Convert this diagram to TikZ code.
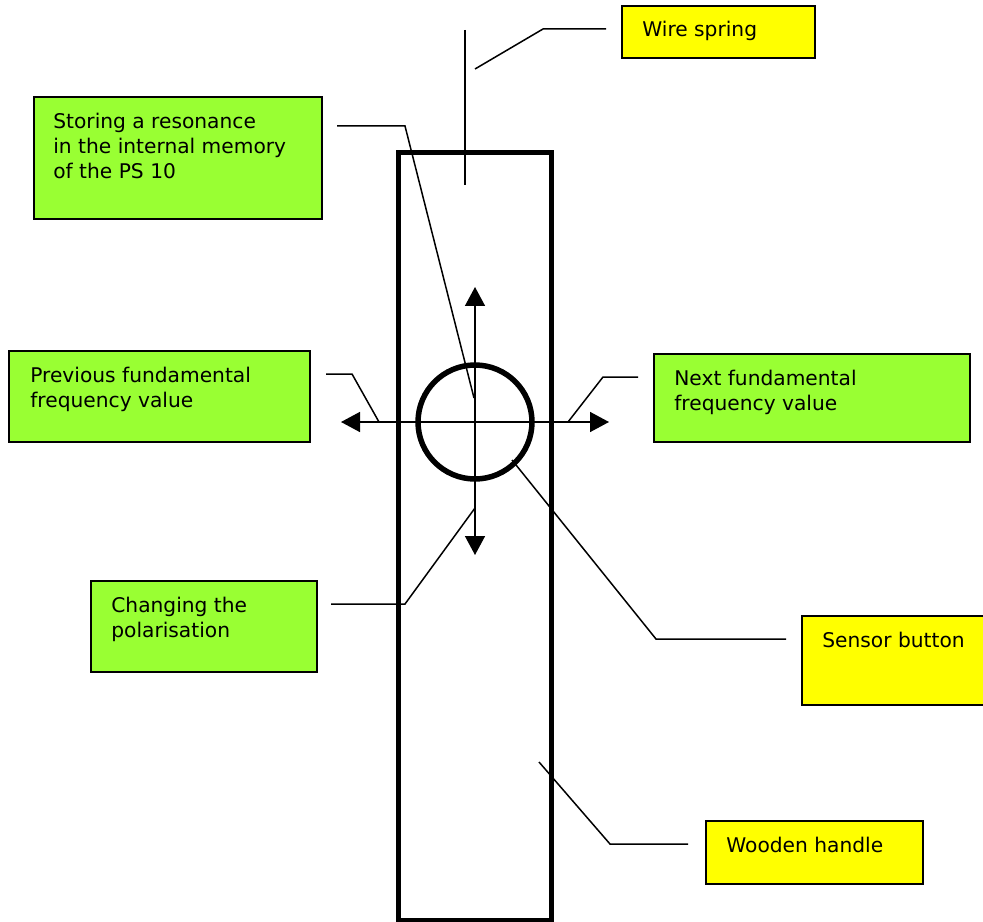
\documentclass[tikz,border=0pt]{standalone}
\usepackage{fontspec}
\setmainfont{DejaVu Sans}
\usetikzlibrary{arrows.meta}
\definecolor{notegreen}{HTML}{99FF33}
\definecolor{noteyellow}{HTML}{FFFF00}
\tikzset{
	notebox/.style={draw=black, line width=0.35mm, rectangle, inner sep=0pt, anchor=north west},
	greennote/.style={notebox, fill=notegreen},
	yellownote/.style={notebox, fill=noteyellow},
	notetext/.style={anchor=north west, align=left, inner sep=0pt, font=\fontsize{11.5}{14.2}\selectfont},
	leader/.style={line width=0.3mm},
	moveaxis/.style={line width=0.3mm, {Triangle[length=3.8mm,width=4mm]}-{Triangle[length=3.8mm,width=4mm]}}
}
\begin{document}
\begin{tikzpicture}[x=0.02cm, y=-0.02cm]
			%%%%% START %%%%%
			\useasboundingbox (0, 0) rectangle (983, 922);
			\clip (0, 0) rectangle (983, 922);
			
			% handle and spring
			\draw[line width=1mm] (398, 153) rectangle (551, 920);
			\draw[line width=0.3mm] (465, 30) -- (465, 185);
			
			% sensor button and its four directions
			\coordinate (btn) at (475, 422);
			\coordinate (up) at (475, 287);
			\coordinate (down) at (475, 555);
			\coordinate (left) at (341, 422);
			\coordinate (right) at (609, 422);
			\draw[moveaxis] (up) -- (down);
			\draw[moveaxis] (left) -- (right);
			\draw[line width=1.1mm] (btn) circle (1.14cm);
			
			% notes
			\node[greennote, minimum width=5.76cm, minimum height=2.44cm] (storing) at (33, 96) {};
			\node[notetext] at ([xshift=4mm, yshift=-3.3mm]storing.north west) {Storing a resonance\\in the internal memory\\of the PS 10};
			
			\node[greennote, minimum width=6.02cm, minimum height=1.82cm] (previous) at (8, 350) {};
			\node[notetext] at ([xshift=4.4mm, yshift=-3.3mm]previous.north west) {Previous fundamental\\frequency value};
			
			\node[greennote, minimum width=4.52cm, minimum height=1.82cm] (changing) at (90, 580) {};
			\node[notetext] at ([xshift=4.2mm, yshift=-3.3mm]changing.north west) {Changing the\\polarisation};
			
			\node[yellownote, minimum width=3.86cm, minimum height=1.04cm] (wire) at (621, 5) {};
			\node[notetext] at ([xshift=4.2mm, yshift=-3.1mm]wire.north west) {Wire spring};
			
			\node[greennote, minimum width=6.32cm, minimum height=1.76cm] (next) at (653, 353) {};
			\node[notetext] at ([xshift=4.2mm, yshift=-3.3mm]next.north west) {Next fundamental\\frequency value};
			
			\node[yellownote, minimum width=4.2cm, minimum height=1.78cm] (sensor) at (801, 615) {};
			\node[notetext] at ([xshift=4.2mm, yshift=-3.3mm]sensor.north west) {Sensor button};
			
			\node[yellownote, minimum width=4.34cm, minimum height=1.26cm] (wooden) at (705, 820) {};
			\node[notetext] at ([xshift=4.2mm, yshift=-3.3mm]wooden.north west) {Wooden handle};
			
			% leader lines
			\coordinate (wirefoot) at (606, 29);
			\coordinate (wirepin) at (475, 69);
			\draw[leader] (wirefoot) -- (543, 29) -- (wirepin);
			
			\coordinate (storingfoot) at (337, 126);
			\coordinate (storingpin) at (474, 398);
			\draw[leader] (storingfoot) -- (405, 126) -- (storingpin);
			
			\coordinate (previousfoot) at (326, 374);
			\coordinate (previouspin) at (379, 422);
			\draw[leader] (previousfoot) -- (352, 374) -- (previouspin);
			
			\coordinate (nextfoot) at (638, 377);
			\coordinate (nextpin) at (568, 422);
			\draw[leader] (nextfoot) -- (603, 377) -- (nextpin);
			
			\coordinate (changingfoot) at (331, 604);
			\coordinate (changingpin) at (475, 508);
			\draw[leader] (changingfoot) -- (405, 604) -- (changingpin);
			
			\coordinate (sensorfoot) at (786, 639);
			\coordinate (sensorpin) at (512, 460);
			\draw[leader] (sensorfoot) -- (656, 639) -- (sensorpin);
			
			\coordinate (woodenfoot) at (688, 844);
			\coordinate (woodenpin) at (539, 762);
			\draw[leader] (woodenfoot) -- (610, 844) -- (woodenpin);
			
			%%%%% END %%%%%
\end{tikzpicture}
\end{document}
